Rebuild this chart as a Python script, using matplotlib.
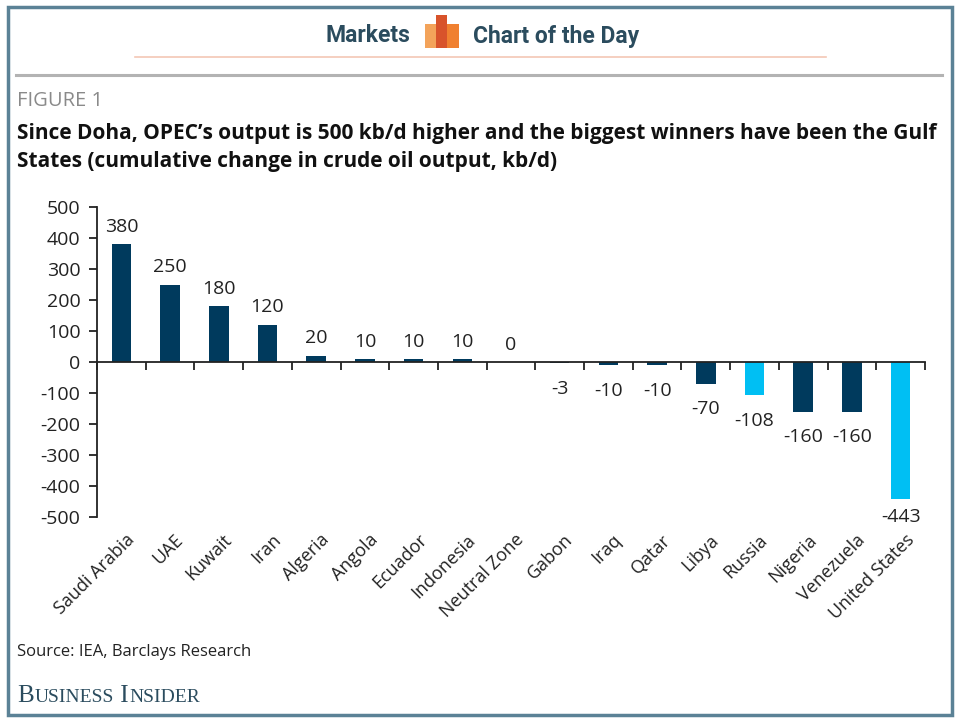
import matplotlib
matplotlib.use("Agg")
import matplotlib.pyplot as plt
from matplotlib.patches import Rectangle
from matplotlib.lines import Line2D

countries = ["Saudi Arabia", "UAE", "Kuwait", "Iran", "Algeria", "Angola",
             "Ecuador", "Indonesia", "Neutral Zone", "Gabon", "Iraq", "Qatar",
             "Libya", "Russia", "Nigeria", "Venezuela", "United States"]
change = [380, 250, 180, 120, 20, 10, 10, 10, 0, -3, -10, -10, -70, -108,
          -160, -160, -443]
non_opec = ["Russia", "United States"]
y_ticks = [500, 400, 300, 200, 100, 0, -100, -200, -300, -400, -500]

NAVY = "#003a5d"
CYAN = "#00bff3"
HEAD = "#2b4c5e"
TEXT = "#222222"
FONT = "Open Sans"

W, H = 960, 720
fig = plt.figure(figsize=(9.6, 7.2), dpi=100)


def px(x, y):
    # pixel coords (top-left origin) -> figure fraction
    return x / W, 1 - y / H


# frame and header rules
fig.add_artist(Rectangle(px(8, 715), 944 / W, 708 / H, transform=fig.transFigure,
                         fill=False, edgecolor="#5b8296", linewidth=2.5))
fig.add_artist(Line2D([16 / W, 942 / W], [1 - 75 / H] * 2, transform=fig.transFigure,
                      color="#b3b3b3", linewidth=2.2))
fig.add_artist(Line2D([135 / W, 826 / W], [1 - 57 / H] * 2, transform=fig.transFigure,
                      color="#f4c7b5", linewidth=1.2))

# header
fig.text(*px(410, 36), "Markets", ha="right", va="center", fontsize=16.5,
         fontweight="bold", color=HEAD, family="Roboto")
fig.text(*px(473, 36), "Chart of the Day", ha="left", va="center", fontsize=16.5,
         fontweight="bold", color=HEAD, family="Roboto")
for x0, x1, y0, c in [(425, 437, 24, "#f3a35a"), (447, 459, 24, "#f08030"),
                      (436, 447, 15, "#d8532b")]:
    fig.add_artist(Rectangle(px(x0, 48), (x1 - x0) / W, (48 - y0) / H,
                             transform=fig.transFigure, color=c, linewidth=0))

fig.text(*px(17, 101), "FIGURE 1", ha="left", va="center", fontsize=14.5,
         color="#8a8a8a", family=FONT)
fig.text(*px(17, 133), "Since Doha, OPEC\u2019s output is 500 kb/d higher and the biggest winners have been the Gulf",
         ha="left", va="center", fontsize=15, fontweight="bold", color="#111111", family=FONT)
fig.text(*px(17, 162), "States (cumulative change in crude oil output, kb/d)",
         ha="left", va="center", fontsize=15, fontweight="bold", color="#111111", family=FONT)
fig.text(*px(17, 652), "Source: IEA, Barclays Research", ha="left", va="center",
         fontsize=12, color=TEXT, family=FONT)

# chart
ax = fig.add_axes([97 / W, 1 - 517 / H, (925 - 97) / W, (517 - 207) / H])
xs = list(range(len(countries)))
colors = [CYAN if c in non_opec else NAVY for c in countries]
ax.bar(xs, change, width=0.4, color=colors)
ax.set_xlim(-0.5, len(countries) - 0.5)
ax.set_ylim(-500, 500)

for x, v in zip(xs, change):
    if v >= 0:
        ax.annotate(str(v), (x, v), xytext=(0, 6), textcoords="offset points",
                    ha="center", va="bottom", fontsize=14, color=TEXT, family=FONT)
    else:
        # the deepest bar's label is squeezed against the axis bottom
        dy = -6 if v < -400 else -12
        ax.annotate(str(v), (x, v), xytext=(0, dy), textcoords="offset points",
                    ha="center", va="top", fontsize=14, color=TEXT, family=FONT)

for s in ["top", "right"]:
    ax.spines[s].set_visible(False)
ax.spines["bottom"].set_position(("data", 0))
ax.spines["left"].set_linewidth(1.3)
ax.spines["bottom"].set_linewidth(1.3)
ax.spines["left"].set_color("#222222")
ax.spines["bottom"].set_color("#222222")

ax.set_yticks(y_ticks)
ax.set_yticklabels([str(t) for t in y_ticks], family=FONT, fontsize=14, color=TEXT)
ax.tick_params(axis="y", length=6, width=1.3, pad=6, color="#222222")

ax.set_xticks([x - 0.5 for x in xs] + [len(countries) - 0.5])
ax.set_xticklabels([])
ax.tick_params(axis="x", length=6, width=1.3, color="#222222", direction="out")

for x, name in zip(xs, countries):
    ax.annotate(name, (x, -500), xytext=(3, -10), textcoords="offset points",
                rotation=45, ha="right", va="top", rotation_mode="anchor",
                fontsize=13, color=TEXT, family=FONT, annotation_clip=False)

# Business Insider wordmark in small caps
renderer = fig.canvas.get_renderer()
x = 17
for word in ["BUSINESS", " INSIDER"]:
    split = 2 if word.startswith(" ") else 1
    for i, part in enumerate([word[:split], word[split:]]):
        t = fig.text(x / W, 1 - 702 / H, part, ha="left", va="baseline",
                     fontsize=18 if i == 0 else 14, color=HEAD,
                     family="Liberation Serif")
        x = t.get_window_extent(renderer).x1 + 0.5

fig.savefig("out.png", dpi=100)
